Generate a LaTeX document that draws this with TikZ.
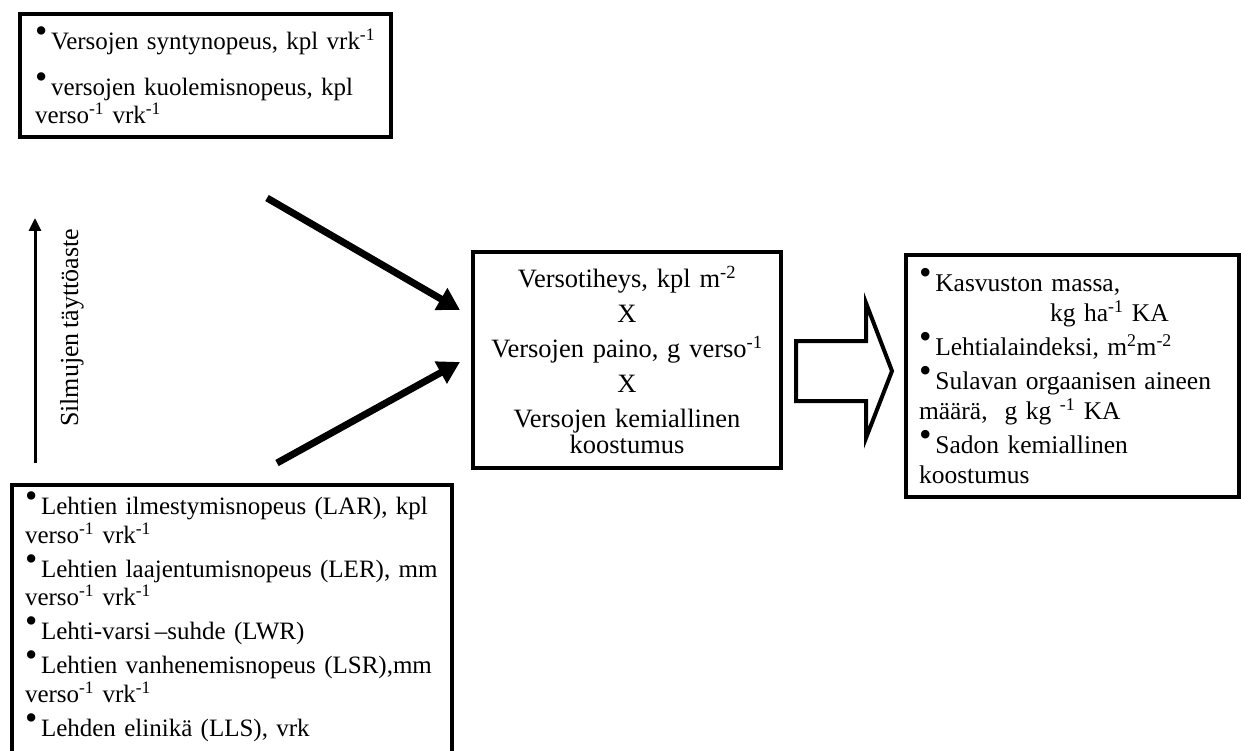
\documentclass[tikz,border=0pt]{standalone}
\usepackage{graphicx}
\usepackage{fontspec}
\setmainfont{Liberation Serif}
\usetikzlibrary{arrows.meta}
\newcommand{\bul}{\raisebox{0.28em}{\scalebox{1.4}{\textbullet}}\hspace{0.15em}}
\newcommand{\up}[1]{\textsuperscript{#1}}
\newcommand{\boxfont}[2]{\fontsize{#1}{#2}\selectfont\spaceskip=0.17em plus 0.05em minus 0.02em\relax}

\begin{document}
\begin{tikzpicture}[x=1pt,y=-1pt,
  box/.style={draw,line width=4pt,inner xsep=15pt,inner ysep=7pt,align=left},
  fat/.style={line width=7pt,-{Triangle[length=22pt,width=24pt]}}]
\useasboundingbox (0,0) rectangle (1241,751);
\clip (0,0) rectangle (1241,751);
\node[box,anchor=north west,text width=341pt,minimum height=123pt,
  font=\boxfont{25}{28}] (rates) at (18,12)
  {\bul Versojen syntynopeus, kpl vrk\up{-1}\\[17pt]
   \bul versojen kuolemisnopeus, kpl\\verso\up{-1} vrk\up{-1}};
\node[box,anchor=north west,inner xsep=13pt,text width=414pt,
  font=\boxfont{25}{28.5}] (leaves) at (10,483)
  {\bul Lehtien ilmestymisnopeus (LAR), kpl\\verso\up{-1} vrk\up{-1}\\[5.5pt]
   \bul Lehtien laajentumisnopeus (LER), mm\\verso\up{-1} vrk\up{-1}\\[5.5pt]
   \bul Lehti-varsi\,–suhde (LWR)\\[5.5pt]
   \bul Lehtien vanhenemisnopeus (LSR),mm\\verso\up{-1} vrk\up{-1}\\[5.5pt]
   \bul Lehden elinikä (LLS), vrk\\[30pt]\mbox{}};
\node[box,align=center,text width=278pt,minimum height=216pt,
  font=\boxfont{26.5}{26}] (yieldparts) at (627,360)
  {Versotiheys, kpl m\up{-2}\\[9pt]
   X\\[9pt]
   Versojen paino, g verso\up{-1}\\[9pt]
   X\\[9pt]
   Versojen kemiallinen\\koostumus};
\node[box,anchor=north west,inner xsep=13pt,text width=307pt,minimum height=242pt,
  font=\boxfont{25.5}{30}] (sward) at (904,253)
  {\bul Kasvuston massa,\\\hspace*{131pt}kg ha\up{-1} KA\\[4pt]
   \bul Lehtialaindeksi, m\up{2}m\up{-2}\\[4pt]
   \bul Sulavan orgaanisen aineen\\määrä,\ \ g kg \up{-1} KA\\[4pt]
   \bul Sadon kemiallinen\\koostumus};
\coordinate (a1) at (267,198);
\coordinate (a1e) at (460,310);
\coordinate (a2) at (277,463);
\coordinate (a2e) at (460,362);
\draw[fat] (a1) -- (a1e);
\draw[fat] (a2) -- (a2e);
\coordinate (fill0) at (35,463);
\coordinate (fill1) at (35,218);
\draw[line width=3pt,-{Triangle[length=13pt,width=12pt]}] (fill0) -- (fill1);
\node[rotate=90,font=\boxfont{26}{28}] (fillgrade) at (72,328) {Silmujen täyttöaste};
\draw[line width=4pt,line join=miter,fill=white]
  (796,341) -- (866,341) -- (866,303) -- (892,371) -- (866,438) -- (866,401) -- (796,401) -- cycle;
\end{tikzpicture}
\end{document}
